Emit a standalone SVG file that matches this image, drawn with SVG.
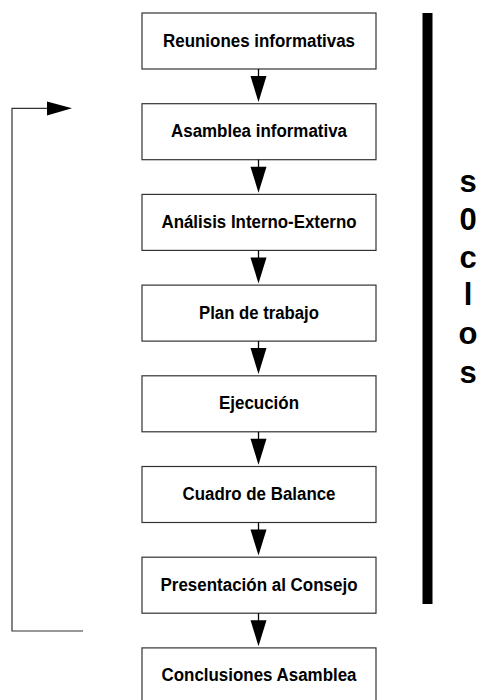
<svg xmlns="http://www.w3.org/2000/svg" width="478" height="700" viewBox="0 0 478 700">
<style>
.box{fill:#fff;stroke:#333;stroke-width:1.2}
.lbl{font-family:"Liberation Sans",Arial,sans-serif;font-weight:bold;font-size:17.5px;fill:#000;text-anchor:middle}
.side{font-family:"Liberation Sans",Arial,sans-serif;font-weight:bold;font-size:31px;fill:#000;text-anchor:middle}
.line{fill:none;stroke:#000;stroke-width:1.3}
.thin{fill:none;stroke:#333;stroke-width:1.2}
</style>
<rect width="478" height="700" fill="#fff"/>
<g id="n1"><rect class="box" x="142" y="13" width="234" height="56"/><text class="lbl" x="259" y="46.5" textLength="192" lengthAdjust="spacingAndGlyphs">Reuniones informativas</text></g>
<g id="n2"><rect class="box" x="142" y="103.7" width="234" height="56"/><text class="lbl" x="259" y="137.2" textLength="176" lengthAdjust="spacingAndGlyphs">Asamblea informativa</text></g>
<g id="n3"><rect class="box" x="142" y="194.4" width="234" height="56"/><text class="lbl" x="259" y="227.9" textLength="195" lengthAdjust="spacingAndGlyphs">Análisis Interno-Externo</text></g>
<g id="n4"><rect class="box" x="142" y="285.1" width="234" height="56"/><text class="lbl" x="259" y="318.6" textLength="120" lengthAdjust="spacingAndGlyphs">Plan de trabajo</text></g>
<g id="n5"><rect class="box" x="142" y="375.8" width="234" height="56"/><text class="lbl" x="259" y="409.3" textLength="80" lengthAdjust="spacingAndGlyphs">Ejecución</text></g>
<g id="n6"><rect class="box" x="142" y="466.5" width="234" height="56"/><text class="lbl" x="259" y="500" textLength="153" lengthAdjust="spacingAndGlyphs">Cuadro de Balance</text></g>
<g id="n7"><rect class="box" x="142" y="557.2" width="234" height="56"/><text class="lbl" x="259" y="590.7" textLength="197" lengthAdjust="spacingAndGlyphs">Presentación al Consejo</text></g>
<g id="n8"><rect class="box" x="142" y="647.9" width="234" height="56"/><text class="lbl" x="259" y="681.4" textLength="195" lengthAdjust="spacingAndGlyphs">Conclusiones Asamblea</text></g>
<g id="connectors">
<path class="line" d="M258.5,69 V77"/><path d="M250.5,76 L266.5,76 L258.5,102 Z"/>
<path class="line" d="M258.5,159.7 V167.7"/><path d="M250.5,166.7 L266.5,166.7 L258.5,192.7 Z"/>
<path class="line" d="M258.5,250.4 V258.4"/><path d="M250.5,257.4 L266.5,257.4 L258.5,283.4 Z"/>
<path class="line" d="M258.5,341.1 V349.1"/><path d="M250.5,348.1 L266.5,348.1 L258.5,374.1 Z"/>
<path class="line" d="M258.5,431.8 V439.8"/><path d="M250.5,438.8 L266.5,438.8 L258.5,464.8 Z"/>
<path class="line" d="M258.5,522.5 V530.5"/><path d="M250.5,529.5 L266.5,529.5 L258.5,555.5 Z"/>
<path class="line" d="M258.5,613.2 V621.2"/><path d="M250.5,620.2 L266.5,620.2 L258.5,646.2 Z"/>
<path class="thin" d="M83,631 H12 V108.3 H48"/>
<path d="M47,101.5 L72,108.3 L47,115.5 Z"/>
</g>
<g id="bar"><rect x="422.5" y="13" width="10" height="591" fill="#000"/></g>
<g id="side-label">
<text class="side" x="468" y="192">s</text>
<text class="side" x="468" y="230">0</text>
<text class="side" x="468" y="268">c</text>
<text class="side" x="468" y="305">l</text>
<text class="side" x="468" y="344">o</text>
<text class="side" x="468" y="383">s</text>
</g>
</svg>
